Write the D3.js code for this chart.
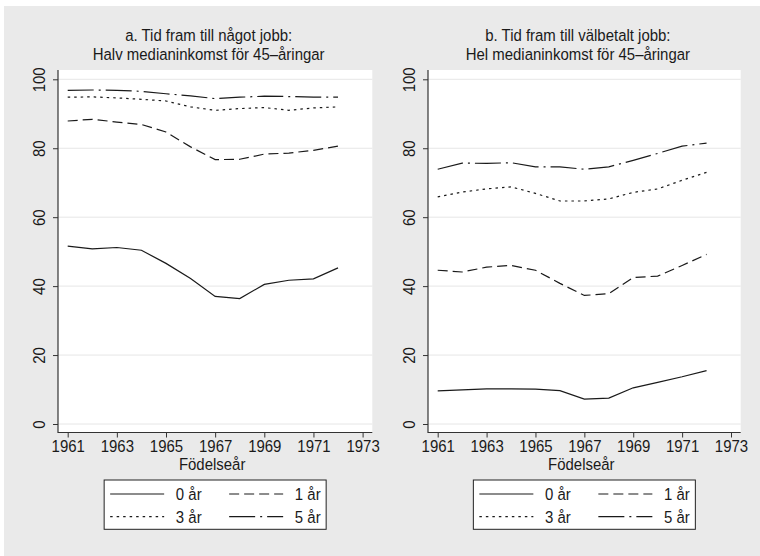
<!DOCTYPE html>
<html><head><meta charset="utf-8">
<script src="https://cdn.jsdelivr.net/npm/d3@7"></script>
<style>
html,body{margin:0;padding:0;background:#fff;}
svg text{font-family:"Liberation Sans",Arial,sans-serif;fill:#1a1a1a;font-size:17px;}
</style></head>
<body>
<svg id="chart" width="760" height="556"></svg>
<script>
// ---- data ----
const years = [1961,1962,1963,1964,1965,1966,1967,1968,1969,1970,1971,1972];
const xTicks = [1961,1963,1965,1967,1969,1971,1973];
const yTicks = [0,20,40,60,80,100];
const seriesNames = ["0 år","1 år","3 år","5 år"];

const a0 = [51.6,50.8,51.2,50.4,46.6,42.2,37.0,36.4,40.5,41.7,42.1,45.3];
const a1 = [87.9,88.4,87.6,86.9,84.7,80.4,76.7,76.8,78.3,78.6,79.4,80.6];
const a3 = [94.8,94.9,94.6,94.2,93.7,92.0,91.0,91.5,91.8,91.0,91.7,92.0];
const a5 = [96.8,96.9,96.8,96.5,95.8,95.2,94.4,94.8,95.1,95.0,94.8,94.8];

const b0 = [9.6,9.9,10.2,10.2,10.1,9.7,7.2,7.5,10.5,12.1,13.7,15.5];
const b1 = [44.6,44.1,45.5,46.0,44.6,40.8,37.3,37.8,42.5,42.9,46.0,49.2];
const b3 = [65.9,67.3,68.2,68.8,66.9,64.7,64.7,65.3,67.2,68.2,70.7,73.0];
const b5 = [73.9,75.7,75.6,75.8,74.6,74.6,73.9,74.6,76.5,78.5,80.6,81.5];

const titlesA = ["a. Tid fram till något jobb:","Halv medianinkomst för 45–åringar"];
const titlesB = ["b. Tid fram till välbetalt jobb:","Hel medianinkomst för 45–åringar"];
const xLabel = "Födelseår";

// ---- drawing ----
const SX = 0.88; // horizontal condensing of the sans face (narrow look)
const dashes = [null,"10,5","2.5,4","26,5,2,5"];
const svg = d3.select("#chart");
svg.append("rect").attr("x",4).attr("y",6).attr("width",756).attr("height",550).attr("fill","#eaeaea");

function txt(g, x, yy, s, anchor){
  return g.append("text").attr("transform",`translate(${x},${yy}) scale(${SX},1)`)
    .attr("text-anchor",anchor||"start").text(s);
}

const plotTop = 70, plotBottom = 432.5;
const y = d3.scaleLinear().domain([0,100]).range([424,79.3]);

function panel(left, right, titles, data){
  const g = svg.append("g");
  const x = d3.scaleLinear().domain([1961,1973]).range([left+9.7, right-9.7]);
  g.append("rect").attr("x",left).attr("y",plotTop).attr("width",right-left).attr("height",plotBottom-plotTop).attr("fill","#fff");
  // grid
  g.selectAll(".grid").data(yTicks).join("line")
    .attr("x1",left).attr("x2",right).attr("y1",d=>y(d)).attr("y2",d=>y(d))
    .attr("stroke","#e6e6e6").attr("stroke-width",1);
  // axes
  const ay = g.append("g").attr("transform",`translate(${left},0)`)
    .call(d3.axisLeft(y).tickValues(yTicks).tickSize(5).tickFormat(d3.format("d")));
  ay.attr("font-family",null).attr("font-size",null);
  ay.select(".domain").remove();
  ay.selectAll("line").attr("stroke","#333");
  ay.selectAll("text").attr("transform",`translate(-12.7,0) rotate(-90) scale(${SX},1)`)
    .attr("x",0).attr("y",0).attr("dy",0).attr("text-anchor","middle").attr("fill","#1a1a1a");
  g.append("line").attr("x1",left).attr("x2",left).attr("y1",plotTop).attr("y2",plotBottom+0.5).attr("stroke","#333").attr("stroke-width",1.2);

  const ax = g.append("g").attr("transform",`translate(0,${plotBottom})`)
    .call(d3.axisBottom(x).tickValues(xTicks).tickSize(5).tickFormat(d3.format("d")));
  ax.attr("font-family",null).attr("font-size",null);
  ax.select(".domain").remove();
  ax.selectAll("line").attr("stroke","#333");
  ax.selectAll("text").attr("y",0).attr("dy",0).attr("transform",`translate(0,19.8) scale(${SX},1)`).attr("fill","#1a1a1a");
  g.append("line").attr("x1",left).attr("x2",right).attr("y1",plotBottom).attr("y2",plotBottom).attr("stroke","#333").attr("stroke-width",1.2);

  // lines
  const line = d3.line().x((d,i)=>x(years[i])).y(d=>y(d));
  data.forEach((s,k)=>{
    g.append("path").datum(s).attr("d",line).attr("fill","none")
      .attr("stroke","#1a1a1a").attr("stroke-width",1.2)
      .attr("stroke-dasharray",dashes[k]);
  });

  const cx = (left+right)/2;
  txt(g, cx-6.5, 40.7, titles[0], "middle");
  txt(g, cx-6.5, 60, titles[1], "middle");
  txt(g, cx-3, 470, xLabel, "middle");

  // legend
  const bx = cx-111, by = 480;
  g.append("rect").attr("x",bx).attr("y",by).attr("width",222).attr("height",49.3)
    .attr("fill","#fff").attr("stroke","#222").attr("stroke-width",1);
  seriesNames.forEach((nm,k)=>{
    const col = k%2, row = Math.floor(k/2);
    const lx = bx + 6 + col*119, ly = by + 14 + row*22.7;
    g.append("line").attr("x1",lx).attr("x2",lx+54).attr("y1",ly).attr("y2",ly)
      .attr("stroke","#1a1a1a").attr("stroke-width",1.2).attr("stroke-dasharray",dashes[k]);
    txt(g, lx+65.7, ly+5.8, nm, "start");
  });
}

panel(58, 372.3, titlesA, [a0,a1,a3,a5]);
panel(428, 740.7, titlesB, [b0,b1,b3,b5]);
</script>
</body></html>
